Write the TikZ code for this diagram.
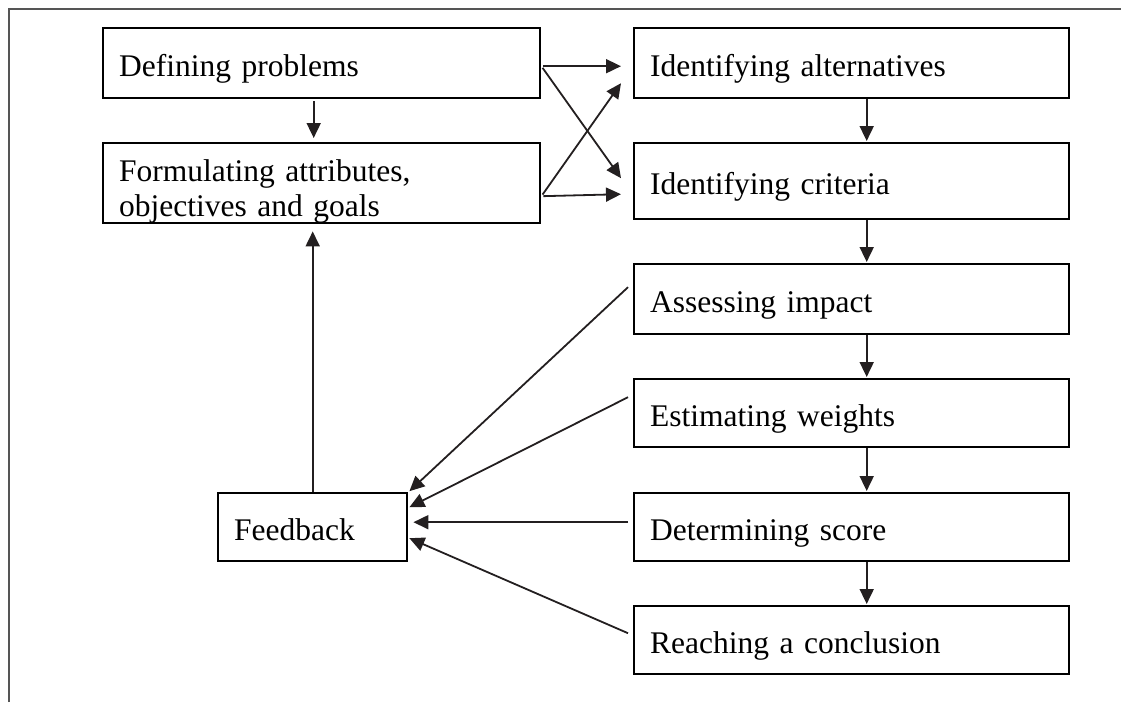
\documentclass[tikz,border=0pt]{standalone}
\usepackage{fontspec}
\setmainfont{Liberation Serif}
\usetikzlibrary{arrows.meta}
\definecolor{framec}{HTML}{555555}
\definecolor{arrowc}{HTML}{231F20}

\begin{document}
\begin{tikzpicture}[x=1pt, y=-1pt,
  box/.style={draw=black, line width=2.4pt, anchor=north west, inner xsep=16pt, inner ysep=0pt,
    align=left, font=\fontsize{31.5}{35}\selectfont, text height=32pt, text depth=6pt},
  arr/.style={draw=arrowc, line width=1.8pt, -{Triangle[length=15pt,width=14pt]}}]
\useasboundingbox (0,0) rectangle (1121,702);
\draw[line width=2.4pt, framec] (9,702) -- (9,9) -- (1121,9);
% left column
\node[box, minimum width=437pt, text width=405pt, minimum height=70pt] (dp) at (102,27) {Defining problems};
\node[box, minimum width=437pt, text width=405pt, minimum height=76pt, text height=38pt, text depth=42pt] (fa) at (102,142) {Formulating attributes,\\objectives and goals};
\node[box, minimum width=189pt, text width=157pt, minimum height=68pt] (fb) at (217,492) {Feedback};
% right column
\node[box, minimum width=435pt, text width=403pt, minimum height=70pt] (ia) at (633,27) {Identifying alternatives};
\node[box, minimum width=435pt, text width=403pt, minimum height=76pt] (ic) at (633,142) {Identifying criteria};
\node[box, minimum width=435pt, text width=403pt, minimum height=70pt] (ai) at (633,263) {Assessing impact};
\node[box, minimum width=435pt, text width=403pt, minimum height=68pt] (ew) at (633,378) {Estimating weights};
\node[box, minimum width=435pt, text width=403pt, minimum height=68pt] (ds) at (633,492) {Determining score};
\node[box, minimum width=435pt, text width=403pt, minimum height=68pt] (rc) at (633,605) {Reaching a conclusion};
% arrows
\draw[arr, shorten <=2pt, shorten >=4pt] ([xshift=-8pt]dp.south) -- ([xshift=-8pt]fa.north);
\foreach \a/\b in {ia/ic, ic/ai, ai/ew, ew/ds, ds/rc}
  \draw[arr, shorten >=1pt] ([xshift=15pt]\a.south) -- ([xshift=15pt]\b.north);
\draw[arr, shorten <=2pt] ([yshift=-3pt]dp.east) -- ([xshift=-12pt,yshift=-3pt]ia.west);
\draw[arr, shorten <=2pt] ([yshift=-3pt]dp.east) -- ([xshift=-12pt,yshift=3pt]ic.west);
\draw[arr, shorten <=2pt] ([yshift=-13pt]fa.east) -- ([xshift=-12pt,yshift=-13pt]ic.west);
\draw[arr, shorten <=2pt] ([yshift=-13pt]fa.east) -- ([xshift=-12pt,yshift=-20pt]ia.west);
\draw[arr] ([xshift=-5pt,yshift=12pt]ai.west) -- ([xshift=1pt,yshift=36pt]fb.east);
\draw[arr] ([xshift=-5pt,yshift=16pt]ew.west) -- ([xshift=1pt,yshift=20pt]fb.east);
\draw[arr] ([xshift=-5pt,yshift=5pt]ds.west) -- ([xshift=5pt,yshift=5pt]fb.east);
\draw[arr] ([xshift=-5pt,yshift=7pt]rc.west) -- ([xshift=1pt,yshift=-11pt]fb.east);
\draw[arr, shorten >=7pt] (fb.north) -- (fb.north |- fa.south);
\end{tikzpicture}
\end{document}
